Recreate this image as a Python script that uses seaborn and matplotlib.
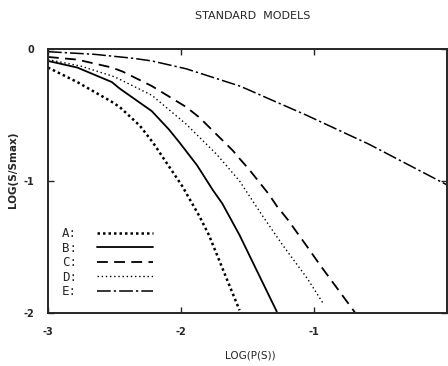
import pandas as pd
import matplotlib
matplotlib.use("Agg")
import matplotlib.pyplot as plt
import seaborn as sns

# curves: log P(S) vs log S/Smax
a_x = [-3.0, -2.78, -2.52, -2.46, -2.31, -2.21, -1.99, -1.86, -1.79, -1.56]
a_y = [-0.14, -0.25, -0.40, -0.44, -0.58, -0.71, -1.04, -1.27, -1.41, -1.98]

b_x = [-3.0, -2.78, -2.52, -2.46, -2.22, -2.09, -2.01, -1.88, -1.76, -1.69, -1.56, -1.28]
b_y = [-0.09, -0.14, -0.25, -0.30, -0.47, -0.61, -0.71, -0.88, -1.07, -1.17, -1.41, -1.99]

c_x = [-3.0, -2.78, -2.52, -2.44, -2.22, -1.96, -1.86, -1.61, -1.56, -1.49,
       -1.34, -1.28, -1.20, -1.05, -0.96, -0.69]
c_y = [-0.06, -0.08, -0.14, -0.17, -0.28, -0.44, -0.52, -0.77, -0.83, -0.91,
       -1.10, -1.19, -1.29, -1.50, -1.63, -2.0]

d_x = [-3.0, -2.75, -2.50, -2.22, -1.96, -1.73, -1.56, -1.39, -1.24, -1.05, -0.93]
d_y = [-0.08, -0.13, -0.21, -0.35, -0.57, -0.80, -1.00, -1.26, -1.48, -1.74, -1.93]

e_x = [-3.0, -2.65, -2.36, -2.22, -1.96, -1.56, -1.49, -1.31, -1.06, -0.74, -0.59, 0.0]
e_y = [-0.02, -0.04, -0.07, -0.09, -0.15, -0.28, -0.31, -0.39, -0.50, -0.65, -0.72, -1.03]

labels = ["A:", "B:", "C:", "D:", "E:"]

sns.set_style("ticks")
plt.rcParams['font.family'] = ['DejaVu Sans']

fig = plt.figure(figsize=(4.48, 3.66), dpi=100)
ax = fig.add_axes([0.107, 0.145, 0.891, 0.721])

curves = [(a_x, a_y), (b_x, b_y), (c_x, c_y), (d_x, d_y), (e_x, e_y)]
styles = [
    dict(linestyle=(0, (1, 1.2)), linewidth=1.8),
    dict(linestyle="-", linewidth=1.3),
    dict(linestyle=(0, (6, 3.5)), linewidth=1.3),
    dict(linestyle=(0, (1, 2)), linewidth=1.0),
    dict(linestyle=(0, (9, 2, 1.5, 2)), linewidth=1.1),
]
for (x, y), lab, st in zip(curves, labels, styles):
    df = pd.DataFrame({"logp": x, "logs": y})
    sns.lineplot(data=df, x="logp", y="logs", ax=ax, sort=False, color="black",
                 label=lab, solid_joinstyle="round", dash_joinstyle="round", **st)

ax.set_xlim(-3, 0)
ax.set_ylim(-2, 0)
ax.set_xticks([-3, -2, -1])
ax.set_xticklabels(["-3", "-2", "-1"], fontsize=7, fontweight="bold")
ax.set_yticks([-2, -1, 0])
ax.set_yticklabels(["-2", "-1", "0"], fontsize=7, fontweight="bold")
ax.tick_params(direction="in", length=4, width=1, top=True, right=True,
               pad=10)
for sp in ax.spines.values():
    sp.set_linewidth(1.4)
ax.set_xlabel("")
ax.set_ylabel("")

fig.text(0.565, 0.955, "STANDARD  MODELS", ha="center", va="center", fontsize=8)
fig.text(0.558, 0.03, "LOG(P(S))", ha="center", va="center", fontsize=7.5)
fig.text(0.03, 0.535, "LOG(S/Smax)", ha="center", va="center", fontsize=7.5,
         rotation=90, fontweight="bold")

ax.legend(loc="upper left", bbox_to_anchor=(0.035, 0.325), frameon=False,
          markerfirst=False, handlelength=4.5, handletextpad=1.6,
          labelspacing=0.12, borderaxespad=0, borderpad=0,
          prop={"size": 9, "family": "DejaVu Sans Mono"})

fig.savefig("out.png", dpi=100)
